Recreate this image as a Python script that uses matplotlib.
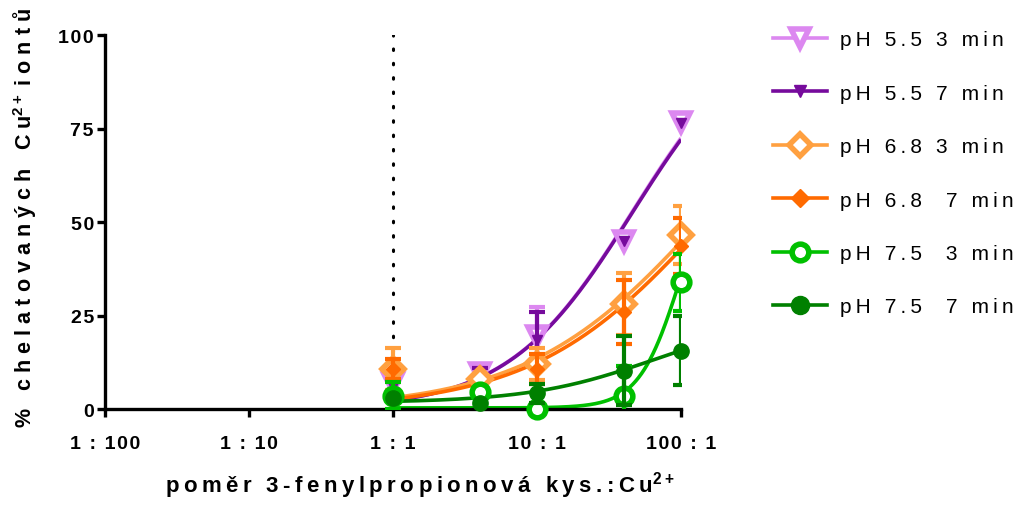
import numpy as np
import matplotlib.pyplot as plt
from matplotlib.lines import Line2D

plt.rcParams['font.family'] = ['Liberation Sans', 'DejaVu Sans']
plt.rcParams['mathtext.default'] = 'regular'

# molar ratio acid : Cu2+
ratio = np.array([1, 4, 10, 40, 100])
x_ticks = [0.01, 0.1, 1, 10, 100]
x_labels = ['1 : 100', '1 : 10', '1 : 1', '10 : 1', '100 : 1']
y_ticks = [0, 25, 50, 75, 100]

labels = ['pH 5.5 3 min', 'pH 5.5 7 min', 'pH 6.8 3 min',
          'pH 6.8  7 min', 'pH 7.5  3 min', 'pH 7.5  7 min']

# % chelated, mean and error
ph55_3 = [7.0, 9.5, 19.5, 45.0, 76.7]
ph55_3_err = [0, 0, 7.7, 0, 0]
ph55_7 = [6.0, 9.0, 18.5, 45.0, 76.5]
ph55_7_err = [0, 2.0, 7.5, 0, 0]
ph68_3 = [10.7, 8.0, 12.0, 28.1, 46.5]
ph68_3_err = [5.5, 0, 4.2, 8.4, 7.7]
ph68_7 = [10.7, 5.0, 10.7, 26.0, 43.7]
ph68_7_err = [2.7, 0, 4.0, 8.5, 7.5]
ph75_3 = [3.6, 4.5, 0.0, 3.6, 33.9]
ph75_3_err = [3.7, 0, 0, 8.0, 7.6]
ph75_7 = [3.0, 1.5, 4.2, 10.2, 15.6]
ph75_7_err = [0, 0, 2.5, 9.2, 9.2]

# fitted curves: y = c + B*x^h / (K^h + x^h)
fit_c = [0, 0, 0, 0, 0.3, 1.7]
fit_B = [106, 105.4, 104, 100, 70, 23]
fit_K = [46.3, 46.3, 150, 150, 100, 65]
fit_h = [1, 1, 0.7, 0.72, 3, 1]

means = [ph55_3, ph55_7, ph68_3, ph68_7, ph75_3, ph75_7]
errs = [ph55_3_err, ph55_7_err, ph68_3_err, ph68_7_err, ph75_3_err, ph75_7_err]

colors = ['#dc88f0', '#760b9c', '#ffa040', '#ff6a00', '#00c000', '#008000']
markers = ['v', 'v', 'D', 'D', 'o', 'o']
msizes = [13, 7, 11, 7, 12, 11]
hollow = [True, False, True, False, True, False]


def spaced(s, gap='\u2009'):
    return gap.join(s)


fig = plt.figure(figsize=(10.26, 5.06), dpi=100)
ax = fig.add_axes([0.1023, 0.1897, 0.5614, 0.7391])
ax.set_xscale('log')
ax.set_xlim(0.01, 100)
ax.set_ylim(0, 100)

ax.plot([1, 1], [0, 100], color='black', lw=2.2, linestyle=(0, (0.5, 4.2)),
        dash_capstyle='round', zorder=1)

xs = np.logspace(0, 2, 300)
for i in range(6):
    fy = fit_c[i] + fit_B[i] * xs ** fit_h[i] / (fit_K[i] ** fit_h[i] + xs ** fit_h[i])
    ax.plot(xs, fy, color=colors[i], lw=2.6, zorder=2, solid_capstyle='butt')

for i in range(6):
    y = np.array(means[i])
    e = np.array(errs[i])
    m = e > 0
    ax.errorbar(ratio[m], y[m], yerr=e[m], fmt='none', ecolor=colors[i],
                elinewidth=3, capsize=6, capthick=3, zorder=3 + i)
    ax.plot(ratio, y, linestyle='none', marker=markers[i], ms=msizes[i],
            mfc='white' if hollow[i] else colors[i], mec=colors[i],
            mew=4 if hollow[i] else 1, zorder=3.5 + i, clip_on=False)

for s in ['top', 'right']:
    ax.spines[s].set_visible(False)
for s in ['left', 'bottom']:
    ax.spines[s].set_linewidth(2.4)
ax.minorticks_off()
ax.set_xticks(x_ticks)
ax.set_xticklabels([spaced(t, '\u200a') for t in x_labels])
ax.set_yticks(y_ticks)
ax.set_yticklabels([spaced(str(t), '\u200a') for t in y_ticks])
ax.tick_params(axis='both', length=6, width=2.4, labelsize=14)
ax.tick_params(axis='x', pad=13)
ax.tick_params(axis='y', pad=2)
for t in ax.get_xticklabels() + ax.get_yticklabels():
    t.set_fontweight('bold')

ax.set_xlabel(spaced('poměr 3-fenylpropionová kys.:Cu') + '$^{2+}$',
              fontsize=16, fontweight='bold')
ax.xaxis.set_label_coords(0.547, -0.16)
ax.set_ylabel(spaced('% chelatovaných Cu', '\u2009\u200a') + '$^{2+}$ '
              + spaced('iontů', '\u2009\u200a'),
              fontsize=15.5, fontweight='bold')
ax.yaxis.set_label_coords(-0.115, 0.513)

handles = []
for i in range(6):
    handles.append(Line2D([], [], color=colors[i], lw=2.6, marker=markers[i],
                          ms=msizes[i] if hollow[i] else msizes[i] + 2,
                          mfc='white' if hollow[i] else colors[i],
                          mec=colors[i], mew=4 if hollow[i] else 1))
fig.legend(handles, [spaced(l) for l in labels], loc='upper left',
           bbox_to_anchor=(0.735, 0.975), frameon=False, fontsize=15,
           handlelength=2.6, labelspacing=1.65, handletextpad=0.6)

fig.savefig('out.png', dpi=100)
